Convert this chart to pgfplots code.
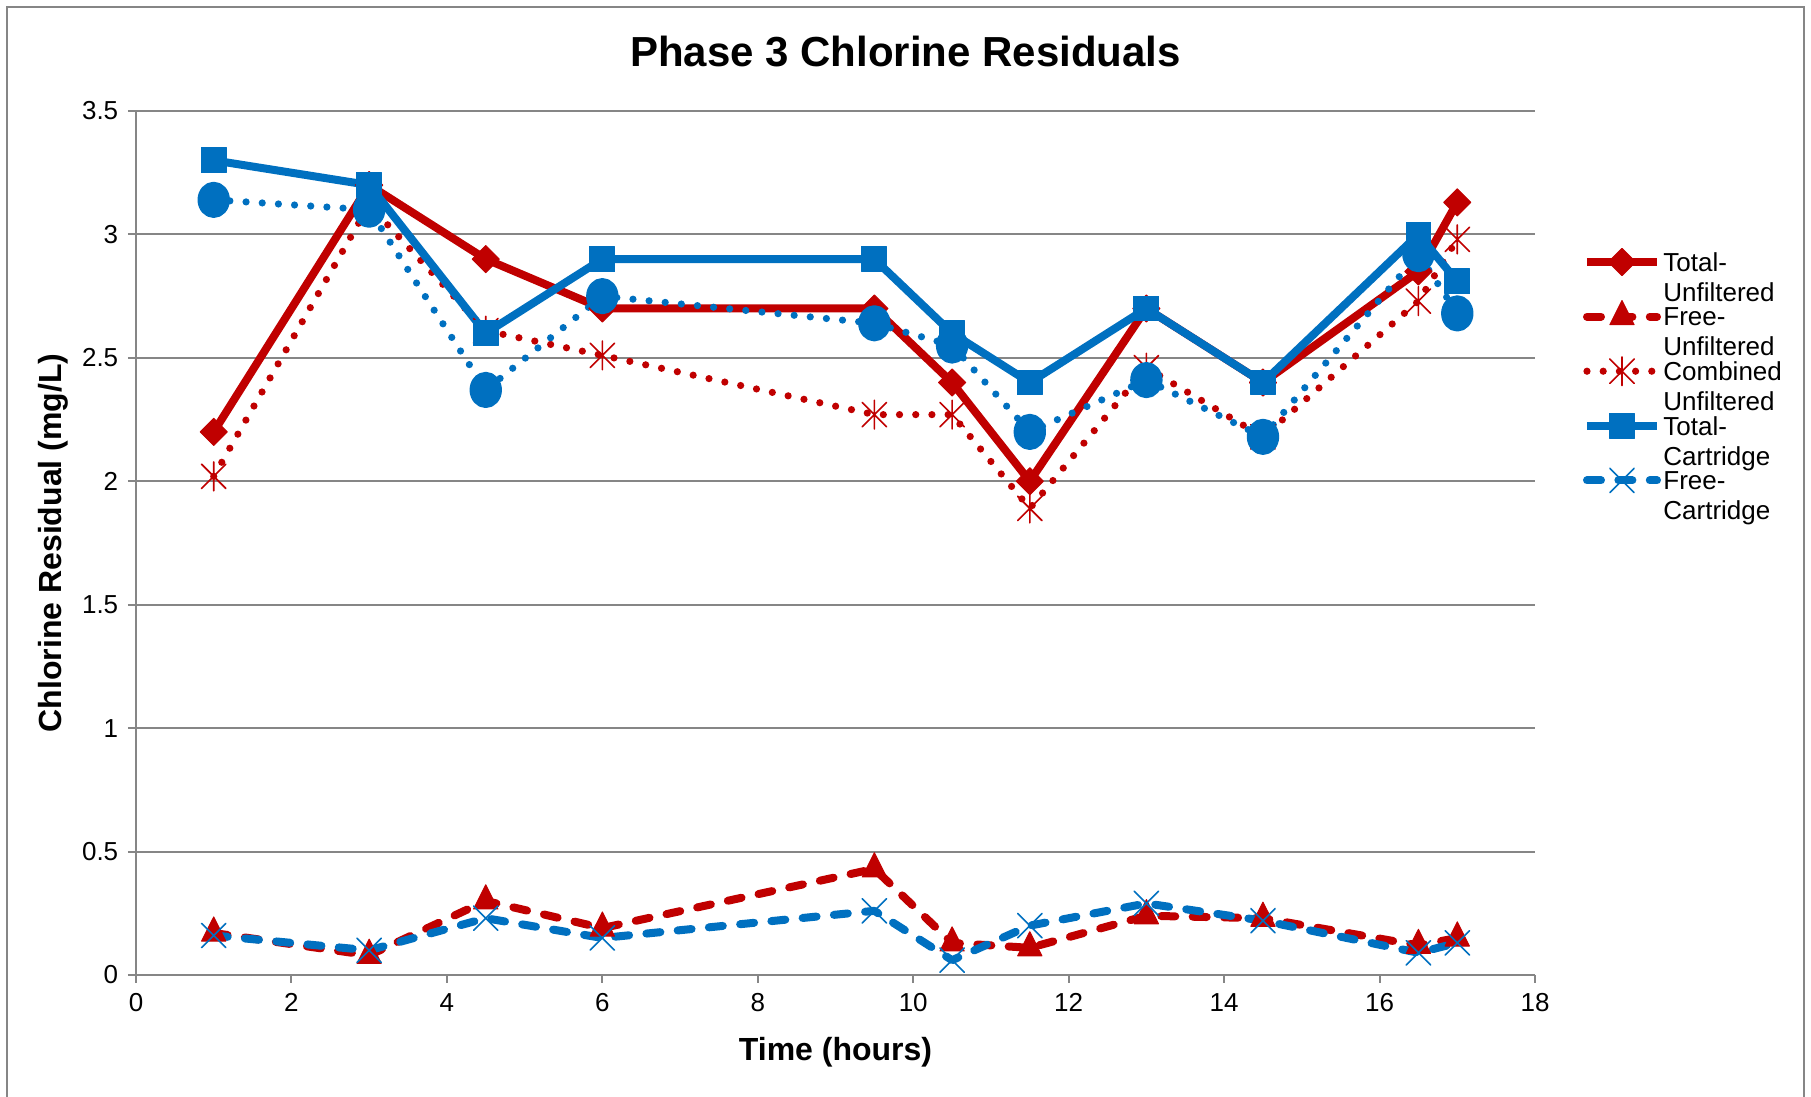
\documentclass[border=0pt]{standalone}
\usepackage{pgfplots}
\pgfplotsset{compat=1.18}
\usepackage{fontspec}
\setmainfont{Liberation Sans}

\definecolor{xred}{HTML}{C00000}
\definecolor{xblue}{HTML}{0070C0}
\definecolor{axgray}{HTML}{868686}

% Excel style star: vertical bar plus an X
\pgfdeclareplotmark{xstar}{%
  \pgfpathmoveto{\pgfqpoint{0pt}{1.18\pgfplotmarksize}}%
  \pgfpathlineto{\pgfqpoint{0pt}{-1.18\pgfplotmarksize}}%
  \pgfpathmoveto{\pgfqpoint{-\pgfplotmarksize}{-\pgfplotmarksize}}%
  \pgfpathlineto{\pgfqpoint{\pgfplotmarksize}{\pgfplotmarksize}}%
  \pgfpathmoveto{\pgfqpoint{-\pgfplotmarksize}{\pgfplotmarksize}}%
  \pgfpathlineto{\pgfqpoint{\pgfplotmarksize}{-\pgfplotmarksize}}%
  \pgfusepathqstroke}

% two-line legend text, first line level with the sample line
\newcommand{\lgd}[2]{\smash{\raisebox{-4.6pt}{\begin{tabular}[t]{@{}l@{}}#1\\#2\end{tabular}}}}

\begin{document}
\begin{tikzpicture}
\begin{axis}[
    scale only axis,
    width=699.5pt, height=432pt,
    xmin=0, xmax=18, ymin=0, ymax=3.5,
    xtick={0,2,...,18},
    ytick={0,0.5,1,1.5,2,2.5,3,3.5},
    axis x line*=bottom, axis y line*=left,
    axis line style={axgray, line width=1pt, -},
    tick align=outside, major tick length=4pt,
    tick style={axgray, line width=1pt},
    ymajorgrids, grid style={axgray, line width=1pt},
    /pgf/number format/assume math mode=true,
    ticklabel style={font=\fontsize{13}{15.6}\selectfont},
    xticklabel style={anchor=north, inner sep=0pt, yshift=-5.2pt},
    yticklabel style={anchor=east, inner sep=0pt, xshift=-4.7pt},
    xlabel={Time (hours)},
    ylabel={Chlorine Residual (mg/L)},
    xlabel style={at={(axis description cs:0.5,-0.0984)}, anchor=base,
        font=\bfseries\fontsize{16}{19}\selectfont},
    ylabel style={at={(axis description cs:-0.0529,0.5)}, anchor=base,
        font=\bfseries\fontsize{16}{19}\selectfont},
    legend image code/.code={%
        \draw[mark repeat=2, mark phase=2, #1]
            plot coordinates {(0pt,0pt) (17.5pt,0pt) (35pt,0pt)};},
    legend cell align=left,
    legend style={at={(axis description cs:1.0343,0.8568)}, anchor=north west,
        draw=none, fill=none, inner sep=0pt, outer sep=0pt,
        font=\fontsize{13}{15}\selectfont,
        row sep=0pt, column sep=1.2pt,
        nodes={text height=13.65pt, text depth=13.65pt, inner sep=0pt, outer sep=0pt}},
]

% Total-Unfiltered
\addplot[xred, line width=4pt, line join=round, mark=square*, mark size=4.8pt,
    mark options={solid, rotate=45, line width=0.5pt, fill=xred}] coordinates {
    (1,2.2) (3,3.2) (4.5,2.9) (6,2.7) (9.5,2.7) (10.5,2.4)
    (11.5,2.0) (13,2.7) (14.5,2.4) (16.5,2.85) (17,3.13)};
\addlegendentry{\lgd{Total-}{Unfiltered}}

% Free-Unfiltered
\addplot[xred, line width=4pt, line cap=round, line join=round,
    dash pattern=on 7pt off 8.7pt, mark=triangle*, mark size=7pt,
    mark options={solid, yscale=1.15, line width=0.5pt, fill=xred}] coordinates {
    (1,0.17) (3,0.08) (4.5,0.30) (6,0.19) (9.5,0.43) (10.5,0.13)
    (11.5,0.11) (13,0.24) (14.5,0.23) (16.5,0.12) (17,0.15)};
\addlegendentry{\lgd{Free-}{Unfiltered}}

% Combined Unfiltered
\addplot[xred, line width=3.6pt, line cap=round, line join=round,
    dash pattern=on 0pt off 8.1pt, mark=xstar, mark size=6.1pt,
    mark options={solid, line width=0.8pt}] coordinates {
    (1,2.02) (3,3.12) (4.5,2.61) (6,2.51) (9.5,2.27) (10.5,2.27)
    (11.5,1.89) (13,2.46) (14.5,2.18) (16.5,2.73) (17,2.98)};
\addlegendentry{\lgd{Combined}{Unfiltered}}

% Total-Cartridge
\addplot[xblue, line width=4pt, line join=round, mark=square*, mark size=6.2pt,
    mark options={solid, line width=0.5pt, fill=xblue}] coordinates {
    (1,3.3) (3,3.2) (4.5,2.6) (6,2.9) (9.5,2.9) (10.5,2.6)
    (11.5,2.4) (13,2.7) (14.5,2.4) (16.5,3.0) (17,2.81)};
\addlegendentry{\lgd{Total-}{Cartridge}}

% Free-Cartridge
\addplot[xblue, line width=4pt, line cap=round, line join=round,
    dash pattern=on 7pt off 8.7pt, mark=x, mark size=8.6pt,
    mark options={solid, line width=0.8pt}] coordinates {
    (1,0.16) (3,0.10) (4.5,0.23) (6,0.15) (9.5,0.26) (10.5,0.06)
    (11.5,0.20) (13,0.29) (14.5,0.22) (16.5,0.09) (17,0.13)};
\addlegendentry{\lgd{Free-}{Cartridge}}

% Combined Cartridge (not in the visible legend)
\addplot[xblue, line width=3.6pt, line cap=round, line join=round,
    dash pattern=on 0pt off 8.1pt, mark=*, mark size=6.3pt,
    mark options={solid, yscale=1.15, fill=xblue}, forget plot] coordinates {
    (1,3.14) (3,3.1) (4.5,2.37) (6,2.75) (9.5,2.64) (10.5,2.55)
    (11.5,2.2) (13,2.41) (14.5,2.18) (16.5,2.92) (17,2.68)};

\end{axis}

\node[anchor=base, font=\bfseries\fontsize{21}{25}\selectfont]
    at (384.75pt,454pt) {Phase 3 Chlorine Residuals};
\draw[axgray, line width=1pt] (-64.5pt,-70pt) -- (-64.5pt,484pt) -- (834pt,484pt) -- (834pt,-70pt);
\pgfresetboundingbox
\path[use as bounding box] (-68pt,-61pt) rectangle (837.5pt,487.5pt);
\end{tikzpicture}
\end{document}
